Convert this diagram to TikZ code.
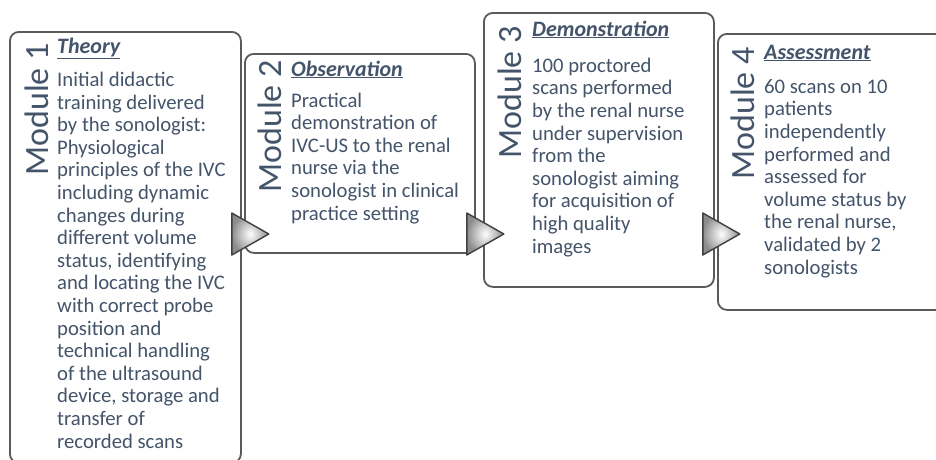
\documentclass[tikz,border=0pt]{standalone}
\usepackage{fontspec}
\setmainfont{Carlito}
\usetikzlibrary{calc}
\definecolor{slate}{HTML}{44546A}
\definecolor{rim}{HTML}{5A5A5A}
\tikzset{
  modbox/.style={draw=rim, line width=1.8pt, rounded corners=9pt, fill=white, anchor=north west, inner sep=0pt},
  modlabel/.style={rotate=90, anchor=base east, text=slate, inner sep=0pt, font=\fontsize{34}{34}\selectfont},
  modtitle/.style={anchor=base west, text=slate, inner sep=0pt, font=\fontsize{22}{22.6}\selectfont\bfseries\itshape},
  % base of a multi-line node is its last line
  modtext/.style={anchor=base west, align=left, text=slate, inner sep=0pt, font=\fontsize{20.7}{22.6}\selectfont},
  pointer/.style={draw=black!75, line width=1.4pt, line join=round, inner color=white, outer color=black!45}
}
\begin{document}
\begin{tikzpicture}[x=1pt,y=-1pt]
    \useasboundingbox (0,0) rectangle (936,459);

    % the four module boxes
    \node[modbox, minimum width=231pt, minimum height=431pt] (m1) at (9,31) {};
    \node[modbox, minimum width=230pt, minimum height=199pt] (m2) at (244,53) {};
    \node[modbox, minimum width=230pt, minimum height=274pt] (m3) at (483,12) {};
    \node[modbox, minimum width=228pt, minimum height=276pt] (m4) at (717,33) {};

    % module 1
    \node[modlabel] (lab1) at (48,43) {Module 1};
    \node[modtitle] (ttl1) at (57,53) {\underline{Theory}};
    \node[modtext] (txt1) at (57,448) {Initial didactic\\training delivered\\by the sonologist:\\Physiological\\principles of the IVC\\including dynamic\\changes during\\different volume\\status, identifying\\and locating the IVC\\with correct probe\\position and\\technical handling\\of the ultrasound\\device, storage and\\transfer of\\recorded scans};

    % module 2
    \node[modlabel] (lab2) at (281,60) {Module 2};
    \node[modtitle] (ttl2) at (291,76) {\underline{Observation}};
    \node[modtext] (txt2) at (291,220) {Practical\\demonstration of\\IVC-US to the renal\\nurse via the\\sonologist in clinical\\practice setting};

    % module 3
    \node[modlabel] (lab3) at (521,26) {Module 3};
    \node[modtitle] (ttl3) at (532,36) {\underline{Demonstration}};
    \node[modtext] (txt3) at (532,253) {100 proctored\\scans performed\\by the renal nurse\\under supervision\\from the\\sonologist aiming\\for acquisition of\\high quality\\images};

    % module 4
    \node[modlabel] (lab4) at (754,47) {Module 4};
    \node[modtitle] (ttl4) at (764,59) {\underline{Assessment}};
    \node[modtext] (txt4) at (764,274) {60 scans on 10\\patients\\independently\\performed and\\assessed for\\volume status by\\the renal nurse,\\validated by 2\\sonologists};

    % pointers between the boxes
    \coordinate (p1) at ($(m1.east |- 0,234)+(-10,0)$);
    \coordinate (p2) at ($(m2.east |- 0,234)+(-9,0)$);
    \coordinate (p3) at ($(m3.east |- 0,234)+(-12,0)$);
    \shadedraw[pointer] (p1) ++(0,-21) -- ++(37,21) -- ++(-37,21) -- cycle;
    \shadedraw[pointer] (p2) ++(0,-21) -- ++(37,21) -- ++(-37,21) -- cycle;
    \shadedraw[pointer] (p3) ++(0,-21) -- ++(37,21) -- ++(-37,21) -- cycle;
\end{tikzpicture}
\end{document}
